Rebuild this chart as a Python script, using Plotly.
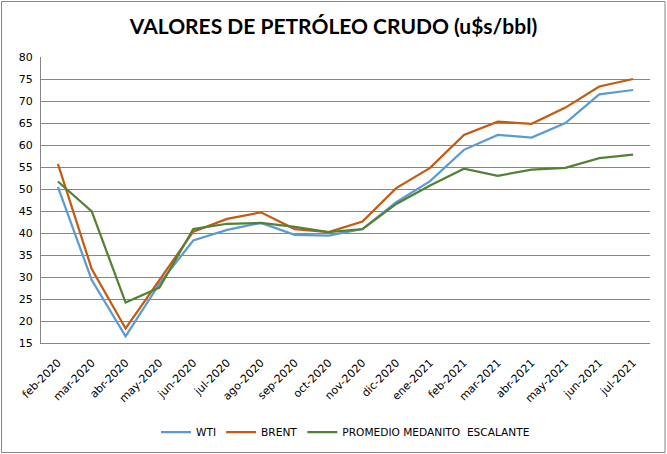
import plotly.graph_objects as go

months = ["feb-2020", "mar-2020", "abr-2020", "may-2020", "jun-2020", "jul-2020",
          "ago-2020", "sep-2020", "oct-2020", "nov-2020", "dic-2020", "ene-2021",
          "feb-2021", "mar-2021", "abr-2021", "may-2021", "jun-2021", "jul-2021"]
wti = [50.5, 29.3, 16.5, 28.5, 38.3, 40.7, 42.3, 39.6, 39.4, 40.9, 47.0, 51.8,
       58.9, 62.3, 61.7, 65.0, 71.5, 72.5]
brent = [55.7, 31.8, 18.3, 29.4, 40.3, 43.2, 44.7, 40.9, 40.2, 42.6, 50.2, 54.8,
         62.3, 65.3, 64.8, 68.5, 73.3, 75.0]
medanito = [51.7, 44.9, 24.2, 27.6, 40.9, 42.1, 42.3, 41.4, 40.2, 40.9, 46.6, 50.8,
            54.6, 53.0, 54.4, 54.8, 57.0, 57.8]
yticks = [15, 20, 25, 30, 35, 40, 45, 50, 55, 60, 65, 70, 75, 80]

W, H = 667, 454
ml, mr, mt, mb = 41, 17, 57, 111
pw, ph = W - ml - mr, H - mt - mb

fig = go.Figure()
for name, vals, col in [("WTI", wti, "#5B9BD5"),
                        ("BRENT", brent, "#C55A11"),
                        ("PROMEDIO MEDANITO  ESCALANTE", medanito, "#548235")]:
    fig.add_trace(go.Scatter(x=months, y=vals, name=name, mode="lines",
                             line=dict(color=col, width=2.25)))

fig.update_layout(
    width=W, height=H,
    margin=dict(l=ml, r=mr, t=mt, b=mb, autoexpand=False),
    paper_bgcolor="white", plot_bgcolor="white",
    title=dict(text="<b>VALORES DE PETRÓLEO CRUDO (u$s/bbl)</b>",
               font=dict(family="Lato", size=21, color="black"),
               x=0.5, xanchor="center", y=1 - 27 / H, yanchor="middle"),
    font=dict(family="DejaVu Sans", size=11, color="black"),
    legend=dict(orientation="h", x=0.5, xanchor="center", y=-(432 - 343) / ph,
                yanchor="middle", font=dict(family="DejaVu Sans", size=10.6),
                itemwidth=30, traceorder="normal"),
    showlegend=True,
)
fig.update_xaxes(type="category", tickangle=-45, showgrid=False,
                 showline=True, linecolor="#868686", linewidth=1,
                 ticks="", tickfont=dict(family="DejaVu Sans", size=11),
                 range=[-0.5, len(months) - 0.5], automargin=False,
                 ticklabelstandoff=8)
fig.update_yaxes(range=[15, 80], tickvals=yticks, showgrid=True,
                 gridcolor="#868686", gridwidth=1, showline=True,
                 linecolor="#868686", linewidth=1, zeroline=False,
                 ticks="", tickfont=dict(family="DejaVu Sans", size=11),
                 automargin=False, ticklabelstandoff=5)

# outer chart border
fig.add_shape(type="rect", xref="paper", yref="paper",
              x0=-(ml - 1.5) / pw, x1=1 + (mr - 2) / pw,
              y0=-(mb - 1.5) / ph, y1=1 + (mt - 1.5) / ph,
              line=dict(color="#868686", width=1), layer="below")

fig.write_html("out.html", config={"displayModeBar": False},
               post_script="document.body.style.margin='0';"
                           "document.body.style.overflow='hidden';")
